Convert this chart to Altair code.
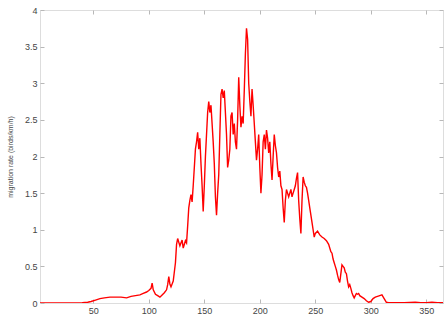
import altair as alt
import pandas as pd

# x positions (day of year)
days_early = [1, 10, 20, 30, 40, 45, 48, 52, 56, 60,
              65, 70, 75, 80, 84, 88, 92, 95, 98, 100,
              102, 103, 104, 106, 108, 110, 112, 114, 116, 117,
              118, 119, 120, 122, 124, 125, 126, 128, 130, 131,
              133, 134]
rate_early = [0, 0, 0, 0, 0.005, 0.01, 0.02, 0.04, 0.06, 0.07,
              0.08, 0.08, 0.08, 0.07, 0.09, 0.1, 0.11, 0.13, 0.15, 0.17,
              0.2, 0.27, 0.18, 0.12, 0.1, 0.08, 0.11, 0.14, 0.18, 0.25,
              0.36, 0.26, 0.22, 0.3, 0.55, 0.8, 0.88, 0.78, 0.86, 0.75,
              0.85, 0.82]

days_peak = list(range(135, 251))
rate_peak = [1.05, 1.3, 1.4, 1.48, 1.38, 1.6, 1.85, 2.1, 2.2, 2.33,
             2.1, 2.25, 1.9, 1.6, 1.25, 1.6, 2.0, 2.3, 2.6, 2.75,
             2.6, 2.7, 2.45, 2.2, 1.9, 1.45, 1.2, 1.5, 1.75, 2.3,
             2.85, 2.92, 2.8, 2.9, 2.6, 2.3, 1.85, 1.95, 2.1, 2.55,
             2.6, 2.3, 2.45, 2.2, 2.1, 2.5, 3.08, 2.7, 2.4, 2.55,
             2.45, 2.9, 3.4, 3.75, 3.6, 3.0, 2.75, 2.55, 2.92, 2.7,
             2.45, 2.2, 1.95, 2.1, 2.3, 1.85, 1.5, 1.75, 2.2, 2.3,
             2.1, 2.36, 2.25, 2.05, 2.2, 1.9, 1.68, 2.0, 2.3, 2.15,
             2.05, 1.85, 1.72, 1.8, 1.6, 1.55, 1.3, 1.1, 1.4, 1.55,
             1.5, 1.45, 1.5, 1.55, 1.45, 1.5, 1.55, 1.6, 1.7, 1.78,
             1.4, 1.15, 0.95, 1.4, 1.72, 1.65, 1.6, 1.58, 1.5, 1.4,
             1.3, 1.2, 1.1, 1.0, 0.9, 0.95]

days_late = ([252, 254, 256, 258, 260, 262, 264] + list(range(265, 291))
             + list(range(292, 317, 2)) + [320, 330, 340, 345, 350, 355, 360, 365])
rate_late = [0.98, 0.93, 0.9, 0.88, 0.85, 0.8, 0.7,
             0.68, 0.6, 0.55, 0.5, 0.45, 0.38, 0.32, 0.28, 0.4, 0.52,
             0.5, 0.48, 0.42, 0.4, 0.3, 0.22, 0.25, 0.2, 0.14, 0.1,
             0.07, 0.1, 0.13, 0.12, 0.13, 0.1,
             0.08, 0.06, 0.03, 0.01, 0.02, 0.06, 0.08, 0.09, 0.1, 0.11, 0.06, 0.01, 0.005,
             0.005, 0.005, 0.01, 0.005, 0.005, 0.01, 0.005, 0.005]

x_ticks = [50, 100, 150, 200, 250, 300, 350]
y_ticks = [0, 0.5, 1, 1.5, 2, 2.5, 3, 3.5, 4]
y_title = "migration rate (birds/km/h)"

days = days_early + days_peak + days_late
rate = rate_early + rate_peak + rate_late
assert len(days) == len(rate)
df = pd.DataFrame({"day": days, "rate": rate})

GRAY = "#b8b8b8"
LAB = "#444444"
FONT = "Liberation Sans"

xscale = alt.Scale(domain=[2, 365], nice=False, zero=False)
yscale = alt.Scale(domain=[0, 4], nice=False)

main = alt.Chart(df).mark_line(color="#ff0000", strokeWidth=1.4, clip=True).encode(
    x=alt.X("day:Q", scale=xscale,
            axis=alt.Axis(orient="bottom", values=x_ticks, title=None, domain=False,
                          grid=False, tickSize=4, offset=-4, tickColor=GRAY,
                          labelPadding=3, labelFontSize=9, labelColor=LAB, labelFont=FONT)),
    y=alt.Y("rate:Q", scale=yscale,
            axis=alt.Axis(orient="left", values=y_ticks, title=y_title, domain=False,
                          grid=False, tickSize=4, offset=-4, tickColor=GRAY,
                          labelExpr="format(datum.value, '~g')",
                          labelPadding=3, labelFontSize=9, labelColor=LAB, labelFont=FONT,
                          titleFontSize=7, titleFont=FONT, titleColor=LAB,
                          titleFontWeight="normal", titlePadding=11)),
)

mirror = alt.Chart(df).mark_line(opacity=0, clip=True).encode(
    x=alt.X("day:Q", scale=xscale,
            axis=alt.Axis(orient="top", values=x_ticks, title=None, domain=False,
                          grid=False, labels=False, tickSize=4, offset=-4, tickColor=GRAY)),
    y=alt.Y("rate:Q", scale=yscale,
            axis=alt.Axis(orient="right", values=y_ticks, title=None, domain=False,
                          grid=False, labels=False, tickSize=4, offset=-4, tickColor=GRAY)),
)

chart = alt.layer(main, mirror).resolve_axis(x="independent", y="independent").properties(
    width=403, height=293,
    autosize=alt.AutoSizeParams(type="none"),
    padding={"left": 40, "top": 10, "right": 1, "bottom": 19},
).configure_view(stroke=GRAY, strokeWidth=1).configure(background="white")

chart.save("out.html", embed_options={"renderer": "svg", "actions": False})
